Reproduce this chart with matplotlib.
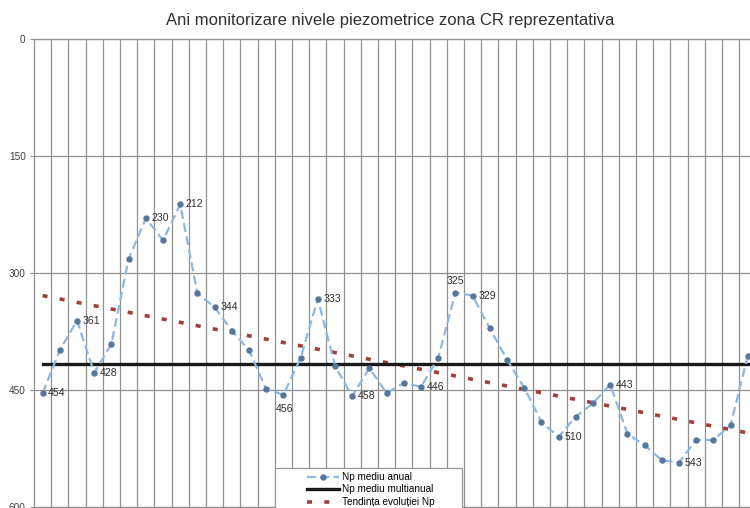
import numpy as np
import matplotlib
matplotlib.use("Agg")
import matplotlib.pyplot as plt
from matplotlib.patches import Rectangle
from matplotlib.lines import Line2D

plt.rcParams['font.family'] = ['Liberation Sans', 'DejaVu Sans']

# ---- data ----
title = "Ani monitorizare nivele piezometrice zona CR reprezentativa"
np_anual = [454, 399, 361, 428, 391, 282, 230, 258, 212, 326, 344, 374, 399, 449,
            456, 409, 333, 419, 458, 422, 454, 441, 446, 409, 325, 329, 371, 411,
            447, 491, 510, 484, 467, 443, 506, 521, 540, 543, 514, 514, 495, 406]
np_multianual = 417
trend_start = 329
trend_end = 505
label_right = [0, 2, 3, 6, 8, 10, 16, 18, 22, 25, 30, 33, 37]
label_below = [14]
label_above = [24]
yticks = [0, 150, 300, 450, 600]
legend_labels = ["Np mediu anual", "Np mediu multianual", "Tendința evoluției Np"]

W, H = 750, 508
fig = plt.figure(figsize=(W / 100, H / 100), dpi=100)
left_px, right_px, top_px, bottom_px = 34, 756.4, 39, 507
ax = fig.add_axes([left_px / W, 1 - bottom_px / H,
                   (right_px - left_px) / W, (bottom_px - top_px) / H])

n = len(np_anual)
x = np.arange(n)

grid_c = '#909090'
ax.set_xlim(-0.5, n - 0.5)
ax.set_ylim(600, 0)
ax.set_yticks(yticks)
ax.set_yticklabels([str(t) for t in yticks])
ax.tick_params(axis='y', length=3, color=grid_c, labelsize=7.2, labelcolor='#404040', pad=3)
ax.set_xticks([])
for i in range(1, n):
    ax.axvline(i - 0.5, color=grid_c, lw=0.9, zorder=1)
for t in yticks:
    ax.axhline(t, color=grid_c, lw=0.9, zorder=1)
for s in ax.spines.values():
    s.set_color(grid_c)
    s.set_linewidth(0.9)

# trend
ax.plot([x[0], x[-1]], [trend_start, trend_end], color='#A23F3B', lw=2.6,
        linestyle=(0, (1.4, 3.4)), zorder=3)
# multiannual mean
ax.plot([x[0], x[-1]], [np_multianual, np_multianual], color='#1a1a1a', lw=2.4, zorder=4)
# annual series
ax.plot(x, np_anual, color='#8FB8E0', lw=1.6, linestyle=(0, (4, 2)), zorder=5)
ax.plot(x, np_anual, linestyle='none', marker='o', ms=3.6, mfc='#56779C',
        mec='#56779C', zorder=6)

lab_kw = dict(fontsize=7.6, color='#303030', zorder=7)
for i in label_right:
    ax.annotate(str(np_anual[i]), (x[i], np_anual[i]), xytext=(4, 0),
                textcoords='offset points', ha='left', va='center', **lab_kw)
for i in label_below:
    ax.annotate(str(np_anual[i]), (x[i], np_anual[i]), xytext=(1, -7),
                textcoords='offset points', ha='center', va='top', **lab_kw)
for i in label_above:
    ax.annotate(str(np_anual[i]), (x[i], np_anual[i]), xytext=(0, 5),
                textcoords='offset points', ha='center', va='bottom', **lab_kw)

fig.text(390 / W, 1 - 21 / H, title, ha='center', va='center', fontsize=12, color='#303030')

# legend
rect = Rectangle((275 / W, 1 - 520 / H), 187 / W, 52 / H, transform=fig.transFigure,
                 facecolor='white', edgecolor='#9a9a9a', lw=0.9, zorder=10)
fig.patches.append(rect)
handles = [
    Line2D([], [], color='#8FB8E0', lw=1.6, linestyle=(0, (4, 2)), marker='o', ms=3.6,
           mfc='#56779C', mec='#56779C'),
    Line2D([], [], color='#1a1a1a', lw=2.4),
    Line2D([], [], color='#A23F3B', lw=2.6, linestyle=(0, (1.4, 3.4))),
]
leg = fig.legend(handles, legend_labels, loc='upper left',
                 bbox_to_anchor=(300 / W, 1 - 465 / H), frameon=False, fontsize=7.2,
                 handlelength=3.2, handletextpad=0.3, labelspacing=0.25,
                 borderpad=0.2)
leg.set_zorder(11)

fig.savefig('out.png', dpi=100)
